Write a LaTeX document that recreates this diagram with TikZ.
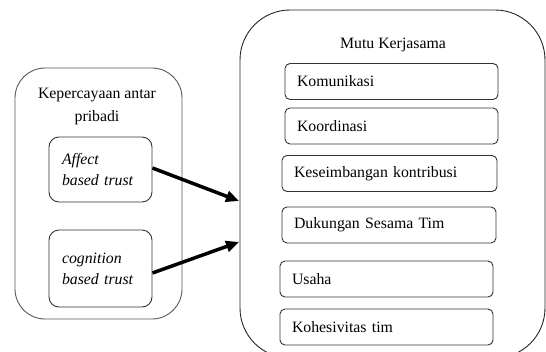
\documentclass[tikz,border=0pt]{standalone}
\usepackage{fontspec}
\setmainfont{Liberation Serif}
\usetikzlibrary{arrows.meta}
\begin{document}
\begin{tikzpicture}[x=1pt,y=-1pt,
  font=\fontsize{15.8}{21}\selectfont,
  outerL/.style={draw=black!65, line width=0.9pt, rounded corners=30pt},
  outerR/.style={draw=black!85, line width=0.9pt, rounded corners=50pt},
  lbox/.style={draw=black!80, line width=0.9pt, rounded corners=10pt, minimum width=103pt,
    text width=77pt, inner xsep=13pt, align=left, font=\fontsize{15.8}{21}\selectfont\itshape},
  rbox/.style={draw=black!80, line width=0.9pt, rounded corners=5pt, minimum height=36pt,
    inner xsep=12pt, align=left},
  arr/.style={line width=3.5pt, -{Triangle[length=13pt,width=11pt]}}
]
\useasboundingbox (0,0) rectangle (546,351);
\clip (0,0) rectangle (546,351);
\fill[white] (0,0) rectangle (546,351);

% left group
\node[outerL, minimum width=167pt, minimum height=251pt] (L) at (98.5,193.5) {};
\node[align=center, font=\fontsize{15.8}{23}\selectfont] (Lt) at (97,106.5) {Kepercayaan antar\\pribadi};
\node[lbox, minimum height=65pt] (aff) at (100.5,169.5) {Affect\\based trust};
\node[lbox, minimum height=77pt] (cog) at (100.5,268.5) {cognition\\based trust};

% right group
\node[outerR, minimum width=305pt, minimum height=348pt] (R) at (392.5,184) {};
\node (Rt) at (393,45) {Mutu Kerjasama};
\node[rbox, minimum width=213pt, text width=189pt] (k1) at (391.5,81.5) {Komunikasi};
\node[rbox, minimum width=213pt, text width=189pt] (k2) at (391.5,126) {Koordinasi};
\node[rbox, minimum width=215pt, text width=191pt] (k3) at (389.5,173.5) {Keseimbangan kontribusi};
\node[rbox, minimum width=214pt, text width=190pt] (k4) at (389,225) {Dukungan Sesama Tim};
\node[rbox, minimum width=213pt, text width=189pt] (k5) at (386.5,279) {Usaha};
\node[rbox, minimum width=213pt, text width=189pt] (k6) at (386.5,327) {Kohesivitas tim};

% arrows
\coordinate (t1) at (239,201);
\coordinate (t2) at (239,242);
\draw[arr] ([yshift=1.5pt]aff.east) -- (t1);
\draw[arr] ([yshift=-4.5pt]cog.east) -- (t2);
\end{tikzpicture}
\end{document}
